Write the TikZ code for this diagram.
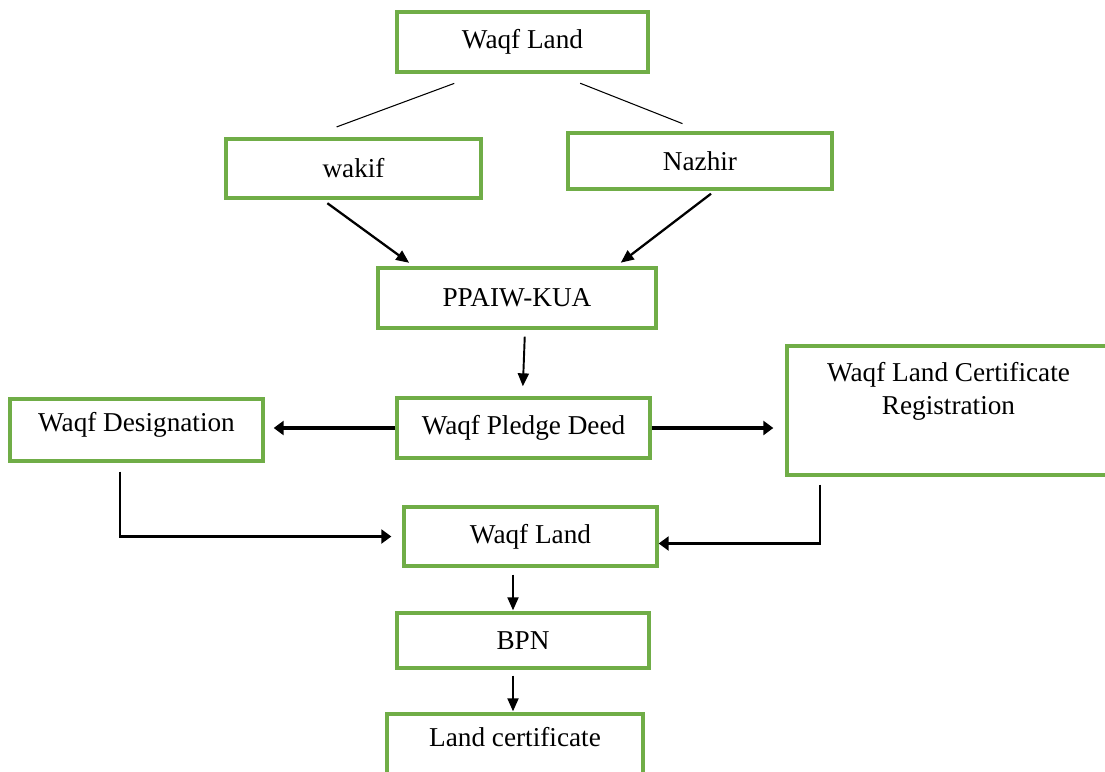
\documentclass[tikz,border=0pt]{standalone}
\usepackage{fontspec}
\setmainfont{Liberation Serif}
\usepackage{xcolor}
\usepackage{tikz}
\usetikzlibrary{arrows.meta}
\definecolor{boxgreen}{RGB}{112,173,71}
\newlength\pxu
\setlength\pxu{0.02cm}

\begin{document}
\begin{tikzpicture}[x=0.02cm, y=-0.02cm,
  box/.style={draw=boxgreen, line width=1.9pt, rectangle, inner sep=0pt, font=\fontsize{15.5}{18.7}\selectfont, align=center},
  link/.style={line width=0.6pt},
  flow/.style={line width=1.1pt, -{Triangle[length=0.26cm,width=0.22cm]}},
  sideflow/.style={line width=1.8pt, -{Triangle[length=0.2cm,width=0.28cm]}}]
\useasboundingbox (0,0) rectangle (1105,771);

% Draw the boxes
\node[box, minimum width=251\pxu, minimum height=60\pxu] (land) at (522.5,42) {Waqf Land};
\node[box, minimum width=255\pxu, minimum height=59\pxu] (wakif) at (353.5,168.5) {wakif};
\node[box, minimum width=264\pxu, minimum height=56\pxu] (nazhir) at (700,161) {Nazhir};
\node[box, minimum width=278\pxu, minimum height=60\pxu] (ppaiw) at (517,298) {PPAIW-KUA};
\node[box, minimum width=253\pxu, minimum height=60\pxu] (deed) at (523.5,428) {Waqf Pledge Deed};
\node[box, minimum width=253\pxu, minimum height=62\pxu, text depth=9pt] (desig) at (136.5,430) {Waqf Designation};
\node[box, minimum width=323\pxu, minimum height=129\pxu, text depth=25pt] (reg) at (948.5,410.5) {Waqf Land Certificate\\Registration};
\node[box, minimum width=253\pxu, minimum height=59\pxu] (landtwo) at (530.5,536.5) {Waqf Land};
\node[box, minimum width=252\pxu, minimum height=55\pxu] (bpn) at (523,640.5) {BPN};
\node[box, minimum width=256\pxu, minimum height=60\pxu, text depth=8pt] (cert) at (515,744) {Land certificate};

% Lines from the waqf land
\draw[link, shorten <=28\pxu, shorten >=30\pxu] ([xshift=-42\pxu]land.south) -- ([xshift=-45\pxu]wakif.north);
\draw[link, shorten <=26\pxu, shorten >=21\pxu] ([xshift=33.5\pxu]land.south) -- ([xshift=2\pxu]nazhir.north);

% Arrows to PPAIW-KUA
\draw[flow, line width=1.3pt, shorten <=6\pxu, shorten >=6\pxu] ([xshift=-31\pxu]wakif.south) -- ([xshift=-103\pxu]ppaiw.north);
\draw[flow, line width=1.3pt, shorten <=5\pxu, shorten >=6\pxu] ([xshift=15\pxu]nazhir.south) -- ([xshift=99\pxu]ppaiw.north);
\draw[flow, shorten <=7\pxu, shorten >=10\pxu] ([xshift=8\pxu]ppaiw.south) -- ([xshift=-1\pxu]deed.north);

% Arrows from the pledge deed
\draw[sideflow, shorten >=9\pxu] (deed.west) -- (desig.east |- deed.west);
\draw[sideflow, shorten >=12\pxu] (deed.east) -- (reg.west |- deed.east);

% Arrows to the second waqf land
\draw[sideflow, line width=1.3pt, shorten <=9\pxu, shorten >=11\pxu] ([xshift=-16.5\pxu]desig.south) |- (landtwo.west);
\draw[sideflow, line width=1.3pt, shorten <=8\pxu] ([xshift=-128.5\pxu]reg.south) |- ([yshift=-7\pxu]landtwo.east);

% Arrows down to the certificate
\draw[flow, shorten <=7\pxu, shorten >=1\pxu] ([xshift=-17.5\pxu]landtwo.south) -- ([xshift=-10\pxu]bpn.north);
\draw[flow, shorten <=6\pxu, shorten >=1\pxu] ([xshift=-10\pxu]bpn.south) -- ([xshift=-2\pxu]cert.north);
\end{tikzpicture}
\end{document}
